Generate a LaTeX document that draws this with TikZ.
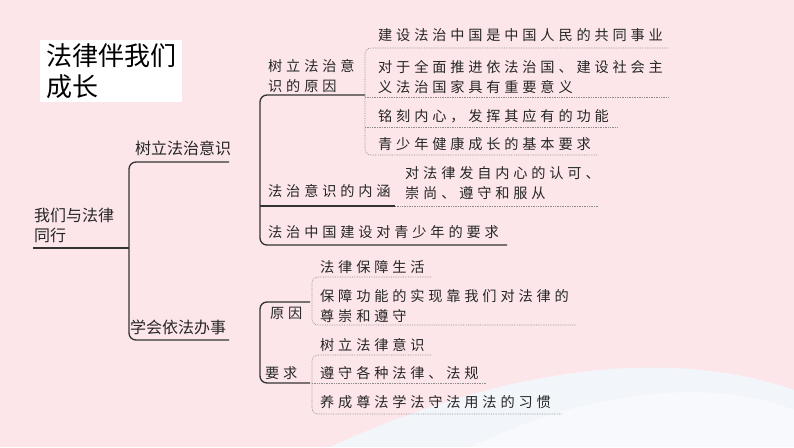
\documentclass[tikz,border=0pt]{standalone}
\usepackage{fontspec}
\newfontfamily\cjk{Noto Sans CJK SC}
\newfontfamily\cjks[LetterSpace=27]{Noto Sans CJK SC}
\definecolor{bgpink}{HTML}{FCE6EA}
\begin{document}
\begin{tikzpicture}[x=1pt,y=-1pt,
  br/.style={line width=1.3pt,draw=black!80,rounded corners=7pt},
  dt/.style={densely dotted,line width=0.7pt,draw=black!45,rounded corners=6pt},
  t1/.style={anchor=west,inner sep=0pt,text=black!85,font=\cjk\fontsize{16}{20}\selectfont,align=left},
  t2/.style={anchor=west,inner sep=0pt,text=black!85,font=\cjks\fontsize{14.2}{19.5}\selectfont,align=left}]
\fill[bgpink] (0,0) rectangle (794,447);
\fill[cyan!6,opacity=0.8] (330,447) .. controls (520,360) and (680,350) .. (794,390) -- (794,447) -- cycle;
\fill[white,opacity=0.4] (470,447) .. controls (600,385) and (720,380) .. (794,410) -- (794,447) -- cycle;
\useasboundingbox (0,0) rectangle (794,447);
\node[fill=white,minimum width=142pt,minimum height=62pt,anchor=north west] (tb) at (40,40) {};
\node[anchor=west,inner sep=0pt,font=\cjk\fontsize{26}{31}\selectfont,align=left] (title) at (46,71) {法律伴我们\\成长};
\node[t1] (root) at (34,225) {我们与法律\\同行};
\node[t1] (a) at (135,148) {树立法治意识};
\node[t1] (b) at (130,327) {学会依法办事};
\node[t2] (a1) at (268,76) {树立法治意\\识的原因};
\node[t2] (a2) at (268,191) {法治意识的内涵};
\node[t2] (a3) at (268,232) {法治中国建设对青少年的要求};
\node[t2] (r1) at (378,35) {建设法治中国是中国人民的共同事业};
\node[t2] (r2) at (378,77) {对于全面推进依法治国、建设社会主\\义法治国家具有重要意义};
\node[t2] (r3) at (378,116) {铭刻内心，发挥其应有的功能};
\node[t2] (r4) at (378,144) {青少年健康成长的基本要求};
\node[t2] (c1) at (405,183) {对法律发自内心的认可、\\崇尚、遵守和服从};
\node[t2] (b1) at (270,313) {原因};
\node[t2] (b2) at (265,373) {要求};
\node[t2] (p1) at (320,267) {法律保障生活};
\node[t2] (p2) at (320,306) {保障功能的实现靠我们对法律的\\尊崇和遵守};
\node[t2] (q1) at (320,345) {树立法律意识};
\node[t2] (q2) at (320,373) {遵守各种法律、法规};
\node[t2] (q3) at (320,402) {养成尊法学法守法用法的习惯};
% solid braces
\draw[br] (33,248) -- (129,248);
\draw[br] (229,162) -- (129,162) -- (129,340) -- (229,340);
\draw[br] (365,95) -- (260,95) -- (260,245) -- (507,245);
\draw[br] (260,206) -- (395,206);
\draw[br] (310,302) -- (260,302) -- (260,383) -- (310,383);
% dotted
\draw[dt] (395,206) -- (598,206);
\draw[dt] (668,48) -- (365,48) -- (365,155) -- (598,155);
\draw[dt] (365,97) -- (668,97);
\draw[dt] (365,127) -- (617,127);
\draw[dt] (431,277) -- (312,277) -- (312,325) -- (577,325);
\draw[dt] (431,355) -- (312,355) -- (312,414) -- (562,414);
\draw[dt] (312,383) -- (487,383);
\end{tikzpicture}
\end{document}
